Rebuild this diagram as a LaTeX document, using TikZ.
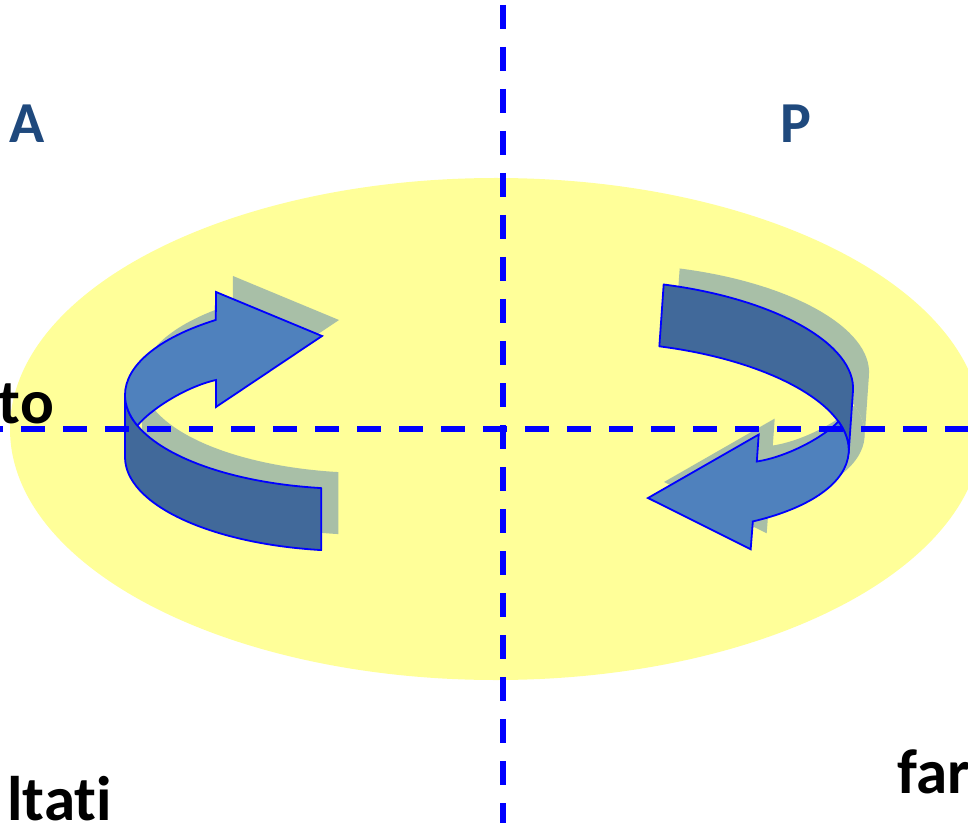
\documentclass[tikz,border=0pt]{standalone}
\usepackage{fontspec}
\setmainfont{Carlito}[Ligatures=NoCommon]
\definecolor{ellY}{HTML}{FFFF99}
\definecolor{dashB}{HTML}{0000FF}
\definecolor{faceB}{HTML}{4F81BD}
\definecolor{bandB}{HTML}{41699A}
\definecolor{shadowG}{HTML}{A8BFA7}
\definecolor{txtB}{HTML}{1F497D}
\tikzset{
  bandstyle/.style={fill=bandB, draw=dashB, line width=1.8pt, line join=round},
  facestyle/.style={fill=faceB, draw=dashB, line width=1.8pt, line join=miter},
  silstyle/.style={fill=shadowG},
  axisline/.style={draw=dashB, line width=6pt, dash pattern=on 24pt off 18pt},
  bigtxt/.style={inner sep=0pt, font=\bfseries\fontsize{58}{60}\selectfont},
  blacktxt/.style={inner sep=0pt, font=\bfseries\fontsize{63}{65}\selectfont},
  er/.style={x radius=228pt, y radius=94pt}
}
\newcommand\ArrSil{%
  \fill[silstyle] (125,428) -- (125,366) arc[start angle=180, end angle=262, er] -- ++(0,62) arc[start angle=262, end angle=180, er] -- cycle;
  \fill[silstyle] (125,428) arc[start angle=180, end angle=127, er] -- (216,531) -- (322,487) -- (216,416) -- (216,443) .. controls (185,436) and (150,413) .. (137.4,397.4) arc[start angle=199, end angle=180, er] -- cycle;
}
\newcommand\ArrBody{%
  \path[bandstyle] (125,428) -- (125,366) arc[start angle=180, end angle=262, er] -- ++(0,62) arc[start angle=262, end angle=180, er] -- cycle;
  \path[facestyle] (125,428) arc[start angle=180, end angle=127, er] -- (216,531) -- (322,487) -- (216,416) -- (216,443) .. controls (185,436) and (150,413) .. (137.4,397.4) arc[start angle=199, end angle=180, er] -- cycle;
}
\begin{document}
\begin{tikzpicture}[x=1pt,y=1pt]
\useasboundingbox (0,0) rectangle (968,823);
% yellow ellipse
\fill[ellY] (496,394) ellipse [x radius=486pt, y radius=251pt];
% left arrow
\begin{scope}[shift={(17,16)}] \ArrSil \end{scope}
\begin{scope} \ArrBody \end{scope}
% right arrow
\begin{scope}[shift={(16,16)}, shift={(648,325)}, rotate=176, shift={(-322,-487)}] \ArrSil \end{scope}
\begin{scope}[shift={(648,325)}, rotate=176, shift={(-322,-487)}] \ArrBody \end{scope}
% axes
\coordinate (vtop) at (503,823);
\coordinate (vbot) at (503,0);
\coordinate (hleft) at (0,394);
\coordinate (hright) at (968,394);
\draw[axisline, dash phase=37pt] (vtop) -- (vbot);
\draw[axisline, dash phase=21pt] (hleft) -- (hright);
% texts
\node[bigtxt, text=txtB, anchor=base west] (tA) at (9,680) {A};
\node[bigtxt, text=txtB, anchor=base west] (tP) at (780,680) {P};
\node[blacktxt, anchor=base east] (tto) at (54,400) {to};
\node[blacktxt, anchor=base east] (tltati) at (112,3) {ltati};
\node[blacktxt, anchor=base west] (tfar) at (897,30) {far};
\end{tikzpicture}
\end{document}
